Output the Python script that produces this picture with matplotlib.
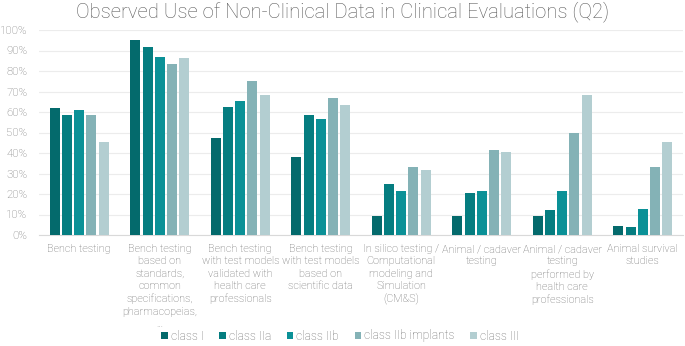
import matplotlib
matplotlib.use("Agg")
import matplotlib.pyplot as plt
import numpy as np

plt.rcParams['font.family'] = ['Roboto', 'DejaVu Sans']

categories = [
    "Bench testing",
    "Bench testing\nbased on\nstandards,\ncommon\nspecifications,\npharmacopeias,\n...",
    "Bench testing\nwith test models\nvalidated with\nhealth care\nprofessionals",
    "Bench testing\nwith test models\nbased on\nscientific data",
    "In silico testing /\nComputational\nmodeling and\nSimulation\n(CM&S)",
    "Animal / cadaver\ntesting",
    "Animal / cadaver\ntesting\nperformed by\nhealth care\nprofessionals",
    "Animal survival\nstudies",
]
series_names = ["class I", "class IIa", "class IIb", "class IIb implants", "class III"]
class_I = [61.9, 95.2, 47.5, 38.0, 9.3, 9.3, 9.3, 4.6]
class_IIa = [58.3, 91.6, 62.5, 58.3, 24.8, 20.6, 12.2, 3.9]
class_IIb = [60.9, 86.9, 65.2, 56.5, 21.6, 21.6, 21.6, 12.7]
class_IIb_impl = [58.3, 83.4, 75.0, 66.6, 33.3, 41.6, 49.8, 33.3]
class_III = [45.4, 86.4, 68.1, 63.5, 31.7, 40.7, 68.1, 45.2]
series = [class_I, class_IIa, class_IIb, class_IIb_impl, class_III]
colors = ["#046a6c", "#057d80", "#0b9197", "#84b2b6", "#b3ced1"]
yticks = list(range(0, 101, 10))

fig = plt.figure(figsize=(6.85, 3.46), dpi=100)
ax = fig.add_axes([39/685, 1 - 235/346, (683-39)/685, 205/346])

x = np.arange(len(categories))
pitch = 0.152
width = 0.124
for i, (vals, c, name) in enumerate(zip(series, colors, series_names)):
    ax.bar(x + (i - 2) * pitch, vals, width, color=c, label=name, zorder=3)

ax.set_xlim(-0.5, len(categories) - 0.5)
ax.set_ylim(0, 100)
ax.set_yticks(yticks)
ax.set_yticklabels([f"{t}%" for t in yticks], fontsize=8.2, color="#757575", fontweight='light')
ax.set_xticks(x)
ax.set_xticklabels(categories, fontsize=7.8, color="#6b6b6b", fontweight='light', linespacing=1.3, va='top')
ax.tick_params(axis='both', length=0)
ax.tick_params(axis='y', pad=8.5)
ax.tick_params(axis='x', pad=6.5)
ax.grid(axis='y', color="#ececec", linewidth=0.8, zorder=0)
for s in ['top', 'right', 'left']:
    ax.spines[s].set_visible(False)
ax.spines['bottom'].set_color("#d9d9d9")
ax.spines['bottom'].set_linewidth(0.8)

fig.text(0.5, 1 - 12/346, "Observed Use of Non-Clinical Data in Clinical Evaluations (Q2)",
         ha='center', va='center', fontsize=14.6, color="#595959", fontweight='light')

leg = fig.legend(loc='center', bbox_to_anchor=(340/685, 1 - 336/346), ncol=5, frameon=False,
                 handlelength=0.55, handleheight=0.55, handletextpad=0.25,
                 columnspacing=1.3, labelcolor="#6b6b6b", prop={'weight': 'light', 'size': 8.65},
                 borderpad=0, borderaxespad=0)

fig.savefig("out.png", dpi=100)
